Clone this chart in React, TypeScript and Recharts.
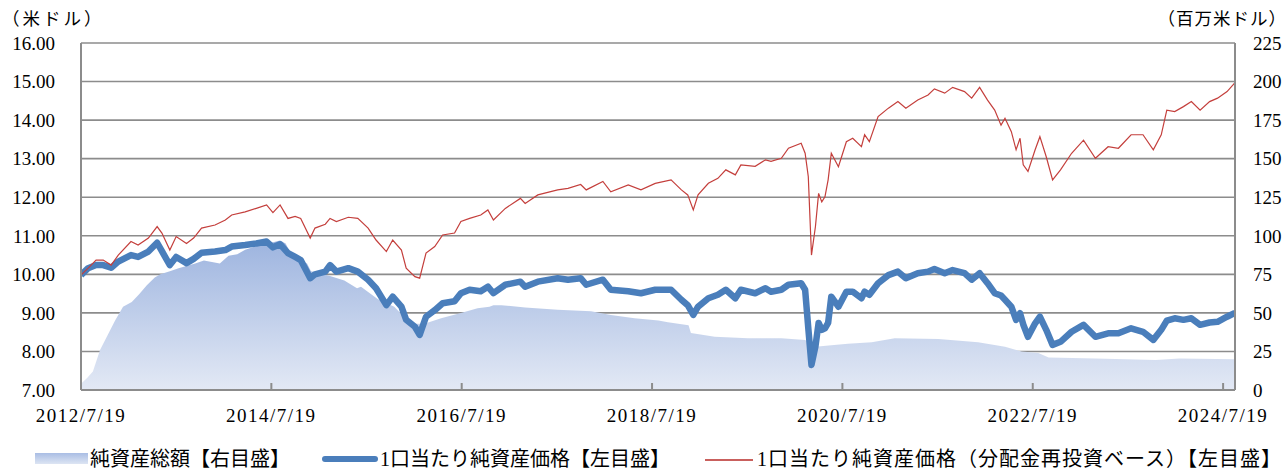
import React from "react";
import { ComposedChart, Area, Line, XAxis, YAxis, CartesianGrid } from "recharts";

// x positions are months since launch (2012/7/19)
const priceMonths = [
  0, 0.9, 1.9, 2.8, 3.8, 4.7, 6.3, 7.2, 8.5, 9.6, 10.2, 11.2, 12, 13.3, 14.2, 15.2, 16.9, 18.2, 19,
  20.7, 22.1, 23.4, 24.2, 25.1, 26.1, 27, 27.7, 28.9, 29.5, 30.8, 31.4, 32.2, 33.7, 34.9, 36.2, 37.2,
  38.5, 39.3, 40.4, 41, 42.1, 42.7, 43.5, 44.6, 45.6, 47.1, 47.9, 49, 50.4, 51.3, 52, 53.5, 55.4, 56,
  57.6, 60.1, 61.4, 63, 63.7, 65.8, 66.8, 69, 70.6, 72.4, 74.4, 75.7, 76.5, 77.2, 77.8, 79.1, 80.3,
  81.3, 82.5, 83.2, 85, 86.3, 87, 88.3, 89.2, 90.8, 91.3, 91.7, 92.1, 92.6, 93, 93.4, 93.8, 94.2,
  94.6, 95.5, 96.5, 97.3, 98.4, 98.8, 99.4, 100.5, 101.8, 103, 104, 105.5, 106.8, 107.6, 108.9, 109.9,
  111.4, 112.3, 113.3, 114.3, 115.2, 116, 116.5, 117.3, 117.9, 118.4, 118.8, 119.4, 120.3, 120.9,
  121.7, 122.5, 123.5, 124.9, 126.4, 127.9, 129.5, 130.8, 132.4, 133.9, 135.2, 136.2, 136.9, 137.9,
  139, 140, 141.1, 142.3, 143.3, 144.5, 145.5,
];

const navPrice = [
  9.98, 10.16, 10.24, 10.24, 10.17, 10.33, 10.5, 10.45, 10.59, 10.82, 10.6, 10.24, 10.45, 10.29, 10.4,
  10.56, 10.59, 10.63, 10.72, 10.76, 10.8, 10.85, 10.7, 10.78, 10.55, 10.45, 10.37, 9.9, 10.0, 10.07,
  10.24, 10.07, 10.16, 10.07, 9.86, 9.64, 9.2, 9.42, 9.16, 8.82, 8.64, 8.43, 8.9, 9.07, 9.25, 9.3,
  9.51, 9.6, 9.56, 9.68, 9.51, 9.73, 9.81, 9.68, 9.81, 9.9, 9.86, 9.9, 9.73, 9.86, 9.6, 9.56, 9.51,
  9.6, 9.6, 9.34, 9.2, 8.95, 9.16, 9.38, 9.47, 9.6, 9.38, 9.6, 9.51, 9.64, 9.55, 9.6, 9.73, 9.77, 9.6,
  8.6, 7.65, 8.13, 8.74, 8.56, 8.6, 8.74, 9.42, 9.16, 9.55, 9.55, 9.38, 9.55, 9.47, 9.77, 9.98, 10.07,
  9.9, 10.03, 10.07, 10.14, 10.03, 10.11, 10.03, 9.86, 10.03, 9.77, 9.51, 9.45, 9.34, 9.16, 8.82,
  8.99, 8.7, 8.38, 8.73, 8.9, 8.56, 8.17, 8.25, 8.51, 8.69, 8.38, 8.47, 8.47, 8.6, 8.51, 8.3, 8.56,
  8.8, 8.86, 8.82, 8.86, 8.69, 8.75, 8.77, 8.9, 9.0,
];

const reinvestedPrice = [
  9.98, 10.16, 10.37, 10.37, 10.24, 10.5, 10.85, 10.76, 10.94, 11.24, 11.07, 10.63, 10.98, 10.8, 10.94,
  11.2, 11.28, 11.41, 11.54, 11.62, 11.71, 11.8, 11.6, 11.8, 11.45, 11.5, 11.45, 10.94, 11.2, 11.3,
  11.45, 11.37, 11.48, 11.45, 11.2, 10.89, 10.59, 10.89, 10.63, 10.16, 9.94, 9.9, 10.55, 10.72, 11.02,
  11.07, 11.37, 11.45, 11.54, 11.67, 11.41, 11.71, 11.97, 11.84, 12.06, 12.19, 12.23, 12.33, 12.19,
  12.41, 12.14, 12.32, 12.19, 12.36, 12.45, 12.19, 12.06, 11.67, 12.06, 12.36, 12.49, 12.71, 12.58,
  12.84, 12.8, 12.97, 12.93, 13.01, 13.27, 13.4, 13.14, 12.53, 10.5, 11.24, 12.1, 11.88, 12.01, 12.45,
  13.14, 12.79, 13.44, 13.53, 13.31, 13.62, 13.44, 14.09, 14.31, 14.48, 14.31, 14.52, 14.65, 14.81,
  14.7, 14.85, 14.74, 14.57, 14.85, 14.52, 14.26, 13.87, 14.05, 13.7, 13.23, 13.53, 12.84, 12.67,
  13.23, 13.57, 13.05, 12.45, 12.71, 13.14, 13.48, 13.01, 13.31, 13.27, 13.62, 13.62, 13.23, 13.62,
  14.26, 14.22, 14.35, 14.48, 14.26, 14.48, 14.57, 14.74, 14.97,
];

const assetMonths = [
  0, 0.8, 1.5, 2.4, 3.4, 4.3, 5.3, 6.4, 7.3, 8.3, 9.3, 10, 11.2, 12.3, 14.4, 15.5, 16.5, 17.5, 18.6,
  19.7, 20.7, 22.6, 23.6, 25.1, 25.8, 26.7, 28.5, 29, 31.4, 33.2, 34.8, 35.3, 37.4, 39.5, 41.6, 43.3,
  45.4, 47.9, 50, 51.5, 52, 53, 56, 60.1, 64.3, 66.8, 69.8, 72.8, 74, 76.6, 76.9, 79.9, 84.1, 88.3,
  91.3, 92.6, 94.6, 96.7, 99.7, 102.6, 108.1, 113.1, 116.5, 118.6, 120.7, 122, 127.9, 135.5, 138.5,
  145.5,
];

const netAssets = [
  4, 8, 12, 26, 36, 45, 54, 57, 62, 68, 73, 75, 77, 79, 82, 84, 83, 82, 87, 88, 91, 94, 95, 97, 95, 86,
  82, 77, 74, 71, 66, 67, 59, 54, 43, 43, 46.5, 50, 53, 54, 55, 55, 53.5, 52, 51, 48.6, 46.5, 45, 44,
  42, 37, 34.5, 33.5, 33.5, 32.4, 28, 29, 30, 31, 33.5, 33, 31, 28, 25, 24, 21, 20.5, 19.5, 20.5, 20,
];

const xTicks = [0, 24, 48, 72, 96, 120, 144];
const xTickLabels = ["2012/7/19", "2014/7/19", "2016/7/19", "2018/7/19", "2020/7/19", "2022/7/19", "2024/7/19"];
const leftTicks = [7, 8, 9, 10, 11, 12, 13, 14, 15, 16];
const rightTicks = [0, 25, 50, 75, 100, 125, 150, 175, 200, 225];

const priceData = priceMonths.map((m, i) => ({ m, nav: navPrice[i], reinvested: reinvestedPrice[i] }));
const assetData = assetMonths.map((m, i) => ({ m, assets: netAssets[i] }));

const serif = "'Liberation Serif', 'Noto Sans CJK JP', serif";
const tickStyle = { fontFamily: serif, fontSize: 19, fill: "#000" };
const gridColor = "#8c8c8c";

export default function App() {
  return (
    <div style={{ position: "absolute", left: 0, top: 0, width: 1287, height: 470, background: "#fff", fontFamily: serif }}>
      <div style={{ position: "absolute", left: 2, top: 7, fontSize: 17.5, lineHeight: "22px", letterSpacing: 3, whiteSpace: "nowrap", fontFamily: "'Noto Sans CJK JP'" }}>
        （米ドル）
      </div>
      <div style={{ position: "absolute", right: 0, top: 7, fontSize: 17.5, lineHeight: "22px", letterSpacing: 1, whiteSpace: "nowrap", fontFamily: "'Noto Sans CJK JP'" }}>
        （百万米ドル）
      </div>
      <ComposedChart width={1287} height={470} margin={{ top: 43, right: 0, bottom: 40, left: 0 }}>
        <defs>
          <linearGradient id="assetFill" x1="0" y1="0" x2="0" y2="1">
            <stop offset="0%" stopColor="#9db4df" />
            <stop offset="100%" stopColor="#e3e9f5" />
          </linearGradient>
        </defs>
        <CartesianGrid yAxisId="left" vertical={false} stroke={gridColor} strokeWidth={1.6} />
        <XAxis
          dataKey="m"
          type="number"
          domain={[0, 145.5]}
          allowDataOverflow
          ticks={xTicks}
          tickFormatter={(v: number) => xTickLabels[xTicks.indexOf(v)]}
          height={40}
          axisLine={{ stroke: gridColor, strokeWidth: 2 }}
          tickLine={{ stroke: gridColor, strokeWidth: 2 }}
          tickSize={-7}
          tickMargin={26}
          tick={{ ...tickStyle, letterSpacing: 1.5 }}
          interval={0}
        />
        <YAxis
          yAxisId="left"
          orientation="left"
          domain={[7, 16]}
          ticks={leftTicks}
          tickFormatter={(v: number) => v.toFixed(2)}
          width={81}
          axisLine={{ stroke: gridColor, strokeWidth: 2 }}
          tickLine={false}
          tickSize={6}
          tickMargin={20}
          tick={tickStyle}
          interval={0}
        />
        <YAxis
          yAxisId="right"
          orientation="right"
          domain={[0, 225]}
          ticks={rightTicks}
          width={52}
          axisLine={{ stroke: gridColor, strokeWidth: 2 }}
          tickLine={false}
          tickSize={6}
          tickMargin={12}
          tick={{ ...tickStyle, textAnchor: "start" }}
          interval={0}
        />
        <Area
          data={assetData}
          yAxisId="right"
          dataKey="assets"
          type="linear"
          stroke="none"
          fill="url(#assetFill)"
          fillOpacity={1}
          isAnimationActive={false}
        />
        <Line
          data={priceData}
          yAxisId="left"
          dataKey="nav"
          type="linear"
          stroke="#4a7ebb"
          strokeWidth={6.5}
          strokeLinejoin="round"
          dot={false}
          isAnimationActive={false}
        />
        <Line
          data={priceData}
          yAxisId="left"
          dataKey="reinvested"
          type="linear"
          stroke="#c43f3c"
          strokeWidth={1.2}
          dot={false}
          isAnimationActive={false}
        />
      </ComposedChart>
      <div style={{ position: "absolute", left: 0, top: 447, width: 1287, height: 24, fontSize: 20, lineHeight: "24px", color: "#000" }}>
        <div style={{ position: "absolute", left: 35, top: 6, width: 53, height: 11, background: "linear-gradient(#a9bde4, #dde5f3)" }} />
        <div style={{ position: "absolute", left: 90, top: 0, whiteSpace: "nowrap" }}>純資産総額【右目盛】</div>
        <div style={{ position: "absolute", left: 322, top: 9, width: 56, height: 6, borderRadius: 3, background: "#4a7ebb" }} />
        <div style={{ position: "absolute", left: 380, top: 0, whiteSpace: "nowrap" }}>1口当たり純資産価格【左目盛】</div>
        <div style={{ position: "absolute", left: 705, top: 12, width: 48, height: 2, background: "#c9605d" }} />
        <div style={{ position: "absolute", left: 757, top: 0, whiteSpace: "nowrap", letterSpacing: 1 }}>1口当たり純資産価格（分配金再投資ベース）【左目盛】</div>
      </div>
    </div>
  );
}
